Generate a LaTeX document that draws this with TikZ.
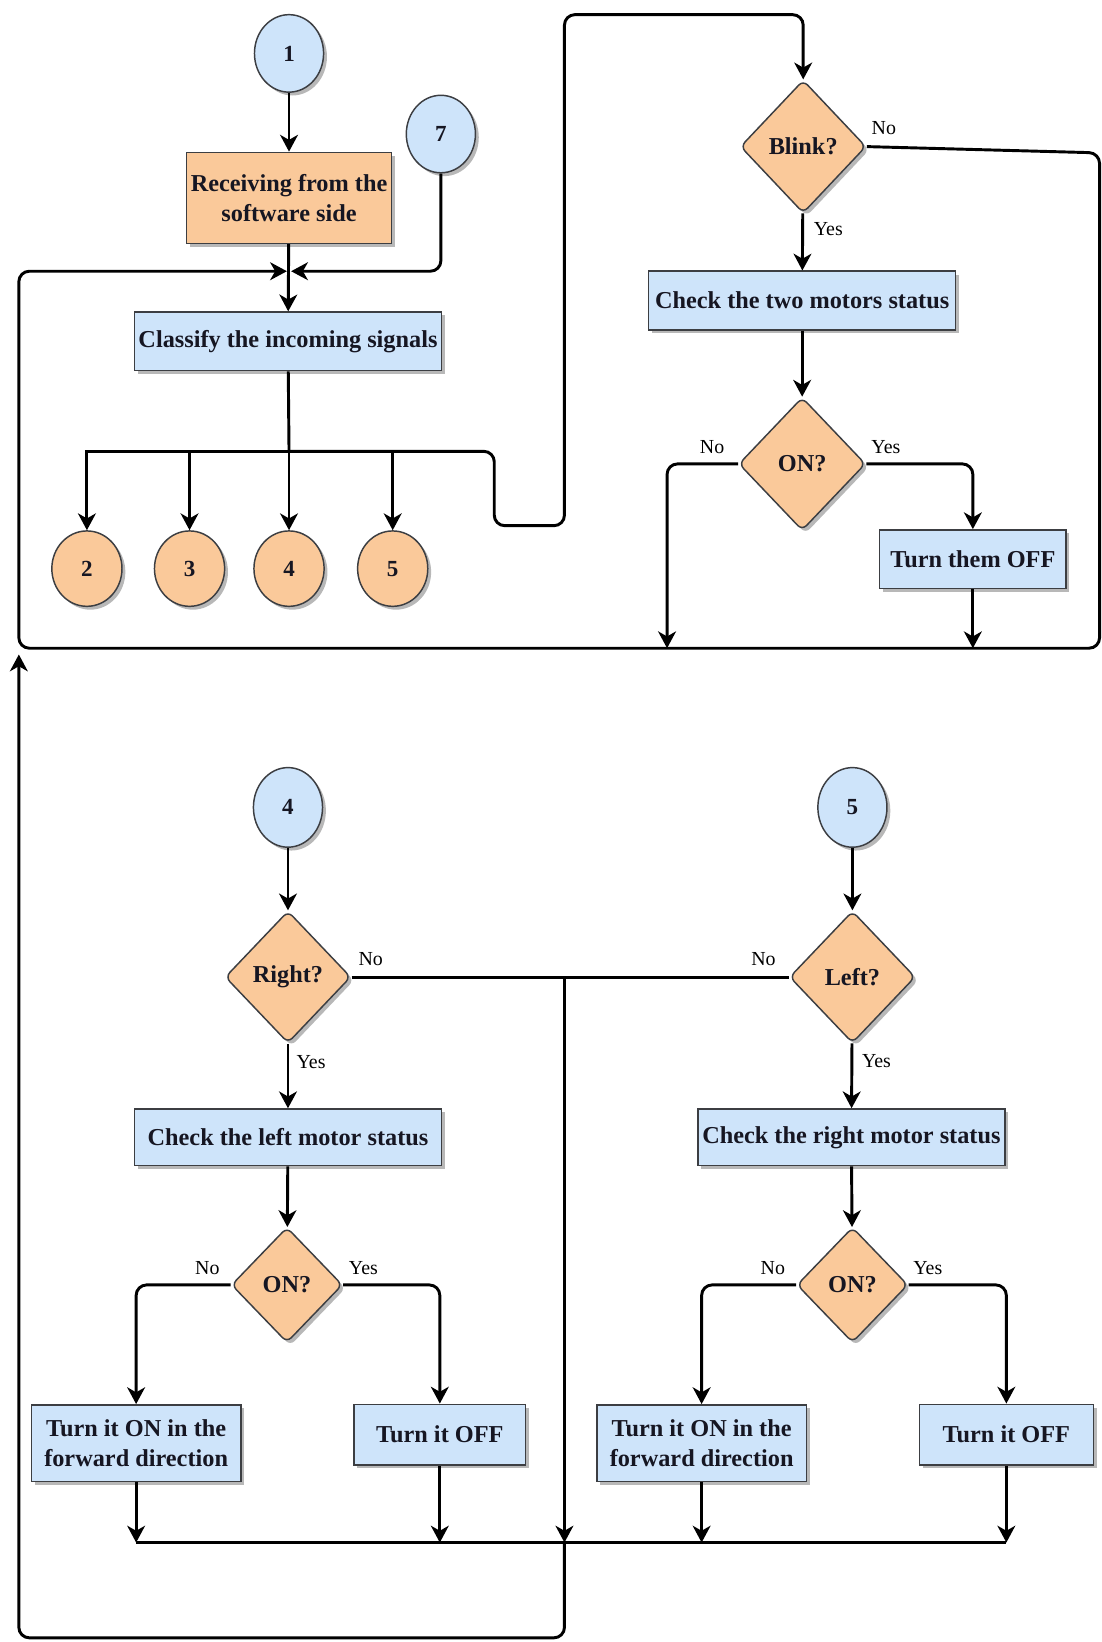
\documentclass[tikz,border=0pt]{standalone}
\usepackage{fontspec}
\setmainfont{Liberation Serif}
\usetikzlibrary{shapes.geometric,arrows.meta,shadows}

\definecolor{boxblue}{RGB}{206,228,250}
\definecolor{boxorange}{RGB}{250,201,154}
\definecolor{rim}{RGB}{60,62,66}
\definecolor{ink}{RGB}{22,22,34}

\begin{document}
\begin{tikzpicture}[x=0.5pt,y=-0.5pt,
  shade/.style={drop shadow={shadow xshift=1.6pt,shadow yshift=-1.6pt,opacity=0.28,fill=black}},
  shapebase/.style={draw=rim,line width=0.7pt,shade,text=ink,align=center,inner sep=1pt,
    font=\fontsize{11.6}{14}\selectfont\bfseries},
  procbox/.style={shapebase,rectangle,fill=boxblue},
  inbox/.style={shapebase,rectangle,fill=boxorange},
  decision/.style={shapebase,diamond,fill=boxorange,rounded corners=3pt},
  startc/.style={shapebase,ellipse,fill=boxblue,minimum width=33pt,minimum height=37pt,
    font=\fontsize{11}{13}\selectfont\bfseries},
  signalc/.style={shapebase,ellipse,fill=boxorange,minimum width=33.5pt,minimum height=36pt,
    font=\fontsize{11}{13}\selectfont\bfseries},
  wire/.style={draw=black,line width=1.4pt},
  arr/.style={wire,-{Stealth[length=8pt,width=8.5pt,inset=2.4pt]}},
  rc/.style={rounded corners=5pt},
  lbl/.style={font=\fontsize{9.5}{11}\selectfont,text=black,inner sep=0pt}
]
\useasboundingbox[fill=white] (0,0) rectangle (1052,1568);

% ---------------- upper part: input and blink handling ----------------
\node[startc] (c1) at (276,51) {1};
\node[inbox,minimum width=98pt,minimum height=43.5pt] (recv) at (276,189) {Receiving from the\\software side};
\node[startc] (c7) at (421,128) {7};
\node[procbox,minimum width=146.5pt,minimum height=28pt] (classify) at (275,326) {Classify the incoming signals};

\node[signalc] (s2) at (83,543) {2};
\node[signalc] (s3) at (181,543) {3};
\node[signalc] (s4) at (276,543) {4};
\node[signalc] (s5) at (375,543) {5};

\node[decision,minimum width=60pt,minimum height=63.5pt] (blink) at (767,140) {Blink?};
\node[procbox,minimum width=146.5pt,minimum height=28pt] (checkboth) at (766,287) {Check the two motors status};
\node[decision,minimum width=60.5pt,minimum height=63.5pt] (onboth) at (766,443) {ON?};
\node[procbox,minimum width=89pt,minimum height=28pt] (offboth) at (929,534) {Turn them OFF};

\coordinate (juncL) at (274,259);
\coordinate (juncR) at (278,259);
\coordinate (split) at (276,431);
\coordinate (frameB) at (637,619);

\draw[arr] (c1) -- (recv);
\draw[arr] (recv) -- (classify);
\draw[arr,rc] (c7.south) |- (juncR);

% the "No" branch of Blink? wraps round the upper part back to the junction
\draw[arr,rc] (blink.east) -- (1050,146) -- (1050,619) -- (18,619) -- (18,259) -- (juncL);

% fan-out of the classified signals
\draw[wire] (classify) -- (split);
\draw[arr] (split) -| (s2);
\draw[arr] (split) -| (s3);
\draw[arr] (split) -- (s4);
\draw[arr] (split) -| (s5);
\draw[arr,rc] (split) -- (472,431) -- (472,502) -- (539,502) -- (539,14) -- (767,14) -- (blink.north);

\node[lbl] at (844,122) {No};
\draw[arr] (blink) -- (checkboth);
\node[lbl] at (791,219) {Yes};
\draw[arr] (checkboth) -- (onboth);
\draw[arr,rc] (onboth.west) -| (frameB);
\node[lbl] at (680,427) {No};
\draw[arr,rc] (onboth.east) -| (offboth.north);
\node[lbl] at (846,427) {Yes};
\draw[arr] (offboth.south) -- (offboth.south |- frameB);

% ---------------- lower part: right / left handling ----------------
\node[startc,minimum height=38pt] (c4) at (275,771) {4};
\node[startc,minimum height=38pt] (c5) at (814,771) {5};
\node[decision,minimum width=60pt,minimum height=63pt] (right) at (275,933) {Right?};
\node[decision,minimum width=60pt,minimum height=63pt] (left) at (814,933) {Left?};
\node[procbox,minimum width=146.5pt,minimum height=27pt] (checkL) at (275,1086) {Check the left motor status};
\node[procbox,minimum width=146.5pt,minimum height=27pt] (checkR) at (813,1086) {Check the right motor status};
\node[decision,minimum width=53pt,minimum height=55pt] (onL) at (274,1227) {ON?};
\node[decision,minimum width=53pt,minimum height=55pt] (onR) at (814,1227) {ON?};
\node[procbox,minimum width=100pt,minimum height=36.5pt] (fwdL) at (130,1378) {Turn it ON in the\\forward direction};
\node[procbox,minimum width=82pt,minimum height=29pt] (offL) at (420,1370) {Turn it OFF};
\node[procbox,minimum width=100pt,minimum height=36.5pt] (fwdR) at (670,1378) {Turn it ON in the\\forward direction};
\node[procbox,minimum width=83pt,minimum height=29pt] (offR) at (961,1370) {Turn it OFF};

\coordinate (nojoin) at (539,933);
\coordinate (merge) at (539,1473);
\coordinate (back) at (18,625);

\draw[arr] (c4) -- (right);
\draw[arr] (c5) -- (left);
\draw[wire] (right.east) -- (left.west);
\node[lbl] at (354,916) {No};
\node[lbl] at (729,916) {No};

\draw[arr] (right) -- (checkL);
\node[lbl] at (297,1014) {Yes};
\draw[arr] (left) -- (checkR);
\node[lbl] at (837,1013) {Yes};
\draw[arr] (checkL) -- (onL);
\draw[arr] (checkR) -- (onR);

\draw[arr,rc] (onL.west) -| (fwdL.north);
\node[lbl] at (198,1211) {No};
\draw[arr,rc] (onL.east) -| (offL.north);
\node[lbl] at (347,1211) {Yes};
\draw[arr,rc] (onR.west) -| (fwdR.north);
\node[lbl] at (738,1211) {No};
\draw[arr,rc] (onR.east) -| (offR.north);
\node[lbl] at (886,1211) {Yes};

% common merge line and the return to the top
\draw[wire] (fwdL.south |- merge) -- (offR.south |- merge);
\draw[arr] (fwdL.south) -- (fwdL.south |- merge);
\draw[arr] (offL.south) -- (offL.south |- merge);
\draw[arr] (fwdR.south) -- (fwdR.south |- merge);
\draw[arr] (offR.south) -- (offR.south |- merge);
\draw[arr] (nojoin) -- (merge);
\draw[arr,rc] (merge) -- (539,1564) -- (18,1564) -- (back);
\end{tikzpicture}
\end{document}
